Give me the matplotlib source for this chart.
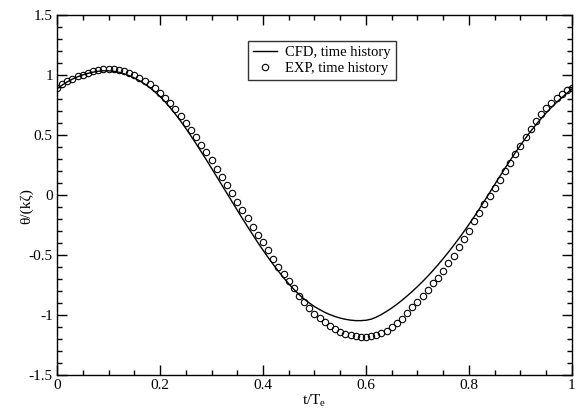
import numpy as np
import matplotlib
matplotlib.use("Agg")
import matplotlib.pyplot as plt
from matplotlib.ticker import MultipleLocator

plt.rcParams['font.family'] = ['Liberation Serif', 'DejaVu Serif']
plt.rcParams['mathtext.fontset'] = 'custom'
plt.rcParams['mathtext.rm'] = 'Liberation Serif'

# time axis (t/Te)
t_exp = [round(i * 0.01, 2) for i in range(101)]
t_cfd = [round(i * 0.01, 2) for i in range(101)]

# experimental data, theta/(k zeta)
exp_vals = [
    0.890, 0.920, 0.946, 0.968, 0.987, 1.003, 1.017, 1.029, 1.038, 1.045,
    1.048, 1.046, 1.040, 1.030, 1.016, 0.999, 0.978, 0.952, 0.922, 0.888,
    0.850, 0.808, 0.762, 0.712, 0.659, 0.603, 0.544, 0.483, 0.420, 0.355,
    0.288, 0.220, 0.151, 0.082, 0.012, -0.058, -0.127, -0.195, -0.263, -0.330,
    -0.395, -0.462, -0.535, -0.597, -0.655, -0.720, -0.778, -0.840, -0.894, -0.940,
    -0.989, -1.025, -1.060, -1.090, -1.115, -1.140, -1.157, -1.170, -1.178, -1.182,
    -1.182, -1.177, -1.167, -1.152, -1.130, -1.103, -1.070, -1.030, -0.982, -0.936,
    -0.889, -0.838, -0.788, -0.736, -0.690, -0.632, -0.570, -0.505, -0.435, -0.368,
    -0.300, -0.220, -0.150, -0.075, -0.010, 0.060, 0.126, 0.200, 0.270, 0.340,
    0.410, 0.480, 0.550, 0.615, 0.672, 0.724, 0.770, 0.810, 0.843, 0.870,
    0.890,
]

# CFD time history
cfd_vals = [
    0.885, 0.915, 0.942, 0.965, 0.984, 1.000, 1.013, 1.023, 1.030, 1.034,
    1.034, 1.030, 1.022, 1.010, 0.994, 0.975, 0.952, 0.925, 0.894, 0.859,
    0.820, 0.775, 0.725, 0.672, 0.615, 0.555, 0.492, 0.427, 0.360, 0.292,
    0.223, 0.153, 0.083, 0.013, -0.057, -0.127, -0.196, -0.264, -0.331, -0.397,
    -0.460, -0.521, -0.580, -0.636, -0.690, -0.740, -0.787, -0.830, -0.868, -0.900,
    -0.930, -0.955, -0.978, -0.997, -1.013, -1.026, -1.036, -1.043, -1.047, -1.047,
    -1.044, -1.035, -1.018, -0.996, -0.970, -0.942, -0.911, -0.877, -0.841, -0.803,
    -0.763, -0.721, -0.677, -0.630, -0.581, -0.530, -0.477, -0.422, -0.365, -0.306,
    -0.245, -0.182, -0.117, -0.050, 0.018, 0.087, 0.155, 0.222, 0.288, 0.352,
    0.414, 0.474, 0.531, 0.585, 0.636, 0.684, 0.729, 0.771, 0.810, 0.847,
    0.882,
]

x_ticks = [0, 0.2, 0.4, 0.6, 0.8, 1.0]
x_ticklabels = ['0', '0.2', '0.4', '0.6', '0.8', '1']
y_ticks = [-1.5, -1, -0.5, 0, 0.5, 1, 1.5]
y_ticklabels = ['-1.5', '-1', '-0.5', '0', '0.5', '1', '1.5']

fig = plt.figure(figsize=(5.76, 4.13), dpi=100)
ax = fig.add_axes([0.099, 0.092, 0.894, 0.872])

ax.plot(t_cfd, cfd_vals, color='black', lw=1.0, label='CFD, time history')
ax.plot(t_exp, exp_vals, linestyle='none', marker='o', ms=4.6, mfc='none',
        mec='black', mew=0.8, label='EXP, time history')

ax.set_xlim(0, 1)
ax.set_ylim(-1.5, 1.5)
ax.set_xticks(x_ticks)
ax.set_xticklabels(x_ticklabels)
ax.set_yticks(y_ticks)
ax.set_yticklabels(y_ticklabels)
ax.xaxis.set_minor_locator(MultipleLocator(0.05))
ax.yaxis.set_minor_locator(MultipleLocator(0.1))

ax.tick_params(which='both', direction='in', top=True, right=True,
               labelsize=11, width=1.0)
ax.tick_params(which='major', length=7.2, pad=3)
ax.tick_params(which='minor', length=3.6)
for s in ax.spines.values():
    s.set_linewidth(1.0)

ax.set_xlabel('t/T$_\\mathregular{e}$', fontsize=11, labelpad=0)
ax.set_ylabel('θ/(kζ)', fontsize=11)
ax.yaxis.set_label_coords(-0.047, 0.47)

leg = ax.legend(loc='upper left', bbox_to_anchor=(0.371, 0.928),
                borderaxespad=0, fontsize=10.5, frameon=True, fancybox=False,
                edgecolor='black', handlelength=1.6, handletextpad=0.6,
                borderpad=0.35, labelspacing=0.2)
leg.get_frame().set_linewidth(1.0)

fig.savefig('out.png', dpi=100)
